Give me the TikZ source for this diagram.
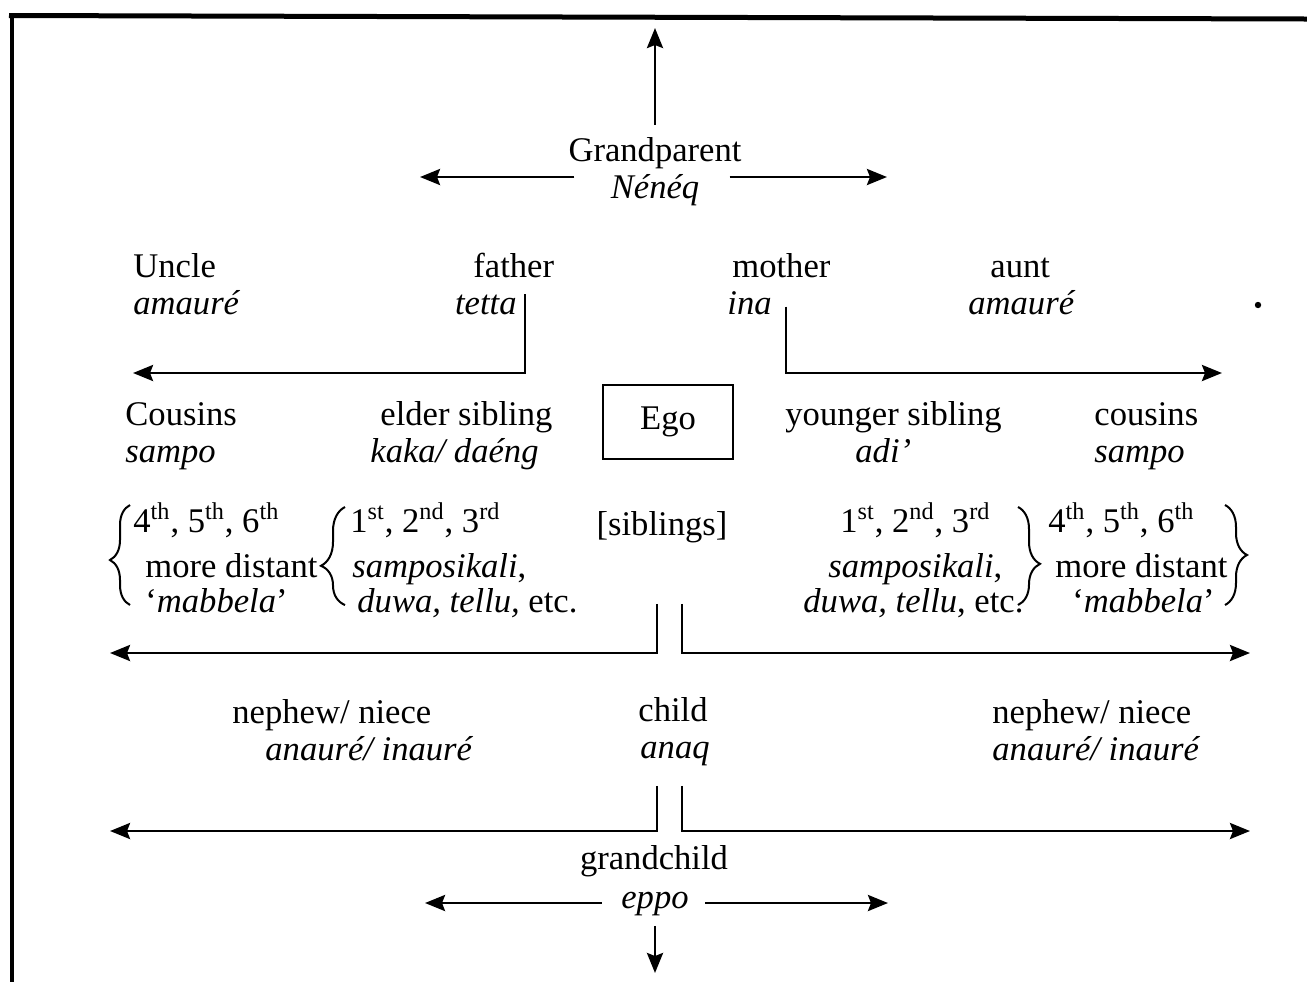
\documentclass[tikz,border=0pt]{standalone}
\usepackage{fontspec}
\setmainfont{Liberation Serif}
\usetikzlibrary{arrows.meta,decorations.pathreplacing}
\begin{document}
\begin{tikzpicture}[x=0.5pt,y=-0.5pt,
  lbl/.style={inner sep=0pt,font=\fontsize{17.3}{20}\selectfont},
  tl/.style={lbl,anchor=base west},
  tc/.style={lbl,anchor=base},
  tr/.style={lbl,anchor=base east},
  arr/.style={line width=1.4pt,-{Stealth[length=10pt,width=8pt,inset=1.5pt]}},
  brc/.style 2 args={line width=1pt,decorate,decoration={brace,amplitude=#1,aspect=#2}},
  egobox/.style={lbl,draw,line width=1.3pt,minimum width=65pt,minimum height=37pt}
]
\useasboundingbox (0,0) rectangle (1307,982);

% frame
\draw[line width=2.5pt] (9,15.5) -- (1307,19);
\draw[line width=2pt] (12,14) -- (12,982);

% grandparent generation
\node[tc] (gp) at (655,161) {Grandparent};
\node[tc] (neneq) at (655,198) {\textit{Nénéq}};
\coordinate (gpTop) at (655,28);
\coordinate (gpW) at (420,177);
\coordinate (gpE) at (887,177);
\draw[arr] ([yshift=6pt]gp.north) -- (gpTop);
\draw[arr,shorten <=18pt] (neneq.west |- gpW) -- (gpW);
\draw[arr,shorten <=15pt] (neneq.east |- gpE) -- (gpE);

% parent generation
\node[tl] (uncle) at (133,277) {Uncle};
\node[tl] (amaureL) at (133,314) {\textit{amauré}};
\node[tl] (father) at (473,277) {father};
\node[tr,inner xsep=4pt] (tetta) at (525,314) {\textit{tetta}};
\node[tl] (mother) at (732,277) {mother};
\node[tl] (ina) at (727,314) {\textit{ina}};
\node[tl] (aunt) at (990,277) {aunt};
\node[tl] (amaureR) at (968,314) {\textit{amauré}};
\fill (1258,305) circle[radius=1.6pt];

\coordinate (uncleTip) at (133,373);
\coordinate (auntTip) at (1222,373);
\draw[arr] (tetta.north east) |- (uncleTip);
\draw[arr] ([xshift=7pt,yshift=-8pt]ina.north east) |- (auntTip);

% ego generation
\node[tl] (cousL) at (125,425) {Cousins};
\node[tl] (sampoL) at (125,462) {\textit{sampo}};
\node[tl] (elder) at (380,425) {elder sibling};
\node[tl] (kaka) at (370,462) {\textit{kaka/ daéng}};
\node[egobox] (ego) at (668,422) {Ego};
\node[tl] (younger) at (785,425) {younger sibling};
\node[tl] (adi) at (855,462) {\textit{adi’}};
\node[tl] (cousR) at (1094,425) {cousins};
\node[tl] (sampoR) at (1094,462) {\textit{sampo}};

% cousin degrees, left side
\draw[brc={10pt}{0.45}] (130,605) -- (130,505);
\node[tl] (l4a) at (133,532) {4\textsuperscript{th}, 5\textsuperscript{th}, 6\textsuperscript{th}};
\node[tl] (l4b) at (145,577) {more distant};
\node[tl] (l4c) at (145,612) {‘\textit{mabbela}’};
\draw[brc={12pt}{0.4}] (345,605) -- (345,507);
\node[tl] (l1a) at (350,532) {1\textsuperscript{st}, 2\textsuperscript{nd}, 3\textsuperscript{rd}};
\node[tl] (l1b) at (352,577) {\textit{samposikali},};
\node[tl] (l1c) at (357,612) {\textit{duwa, tellu,} etc.};

\node[tc] (siblings) at (662,535) {[siblings]};

% cousin degrees, right side
\node[tl] (r1a) at (840,532) {1\textsuperscript{st}, 2\textsuperscript{nd}, 3\textsuperscript{rd}};
\node[tl] (r1b) at (828,577) {\textit{samposikali},};
\node[tl] (r1c) at (803,612) {\textit{duwa, tellu}, etc.};
\draw[brc={11pt}{0.58}] (1018,507) -- (1018,605);
\node[tl] (r4a) at (1048,532) {4\textsuperscript{th}, 5\textsuperscript{th}, 6\textsuperscript{th}};
\node[tl] (r4b) at (1055,577) {more distant};
\node[tl] (r4c) at (1072,612) {‘\textit{mabbela}’};
\draw[brc={11pt}{0.5}] (1225,505) -- (1225,605);

\coordinate (nLtip) at (110,653);
\coordinate (nRtip) at (1250,653);
\draw[arr] ([xshift=-2.5pt,yshift=-30.5pt]siblings.south) |- (nLtip);
\draw[arr] ([xshift=10pt,yshift=-30.5pt]siblings.south) |- (nRtip);

% child generation
\node[tl] (nephL) at (232,723) {nephew/ niece};
\node[tl] (anaureL) at (265,760) {\textit{anauré/ inauré}};
\node[tc] (child) at (673,721) {child};
\node[tc] (anaq) at (675,758) {\textit{anaq}};
\node[tl] (nephR) at (992,723) {nephew/ niece};
\node[tl] (anaureR) at (992,760) {\textit{anauré/ inauré}};

\coordinate (gLtip) at (110,831);
\coordinate (gRtip) at (1250,831);
\draw[arr] ([xshift=-9pt,yshift=-10pt]anaq.south) |- (gLtip);
\draw[arr] ([xshift=3.5pt,yshift=-10pt]anaq.south) |- (gRtip);

% grandchild generation
\node[tc] (grandchild) at (654,869) {grandchild};
\node[tc] (eppo) at (655,908) {\textit{eppo}};
\coordinate (eW) at (425,903);
\coordinate (eE) at (888,903);
\coordinate (eS) at (0,973);
\draw[arr,shorten <=9.5pt] (eppo.west |- eW) -- (eW);
\draw[arr,shorten <=8pt] (eppo.east |- eE) -- (eE);
\draw[arr] ([yshift=-5pt]eppo.south) -- (eppo.south |- eS);
\end{tikzpicture}
\end{document}
